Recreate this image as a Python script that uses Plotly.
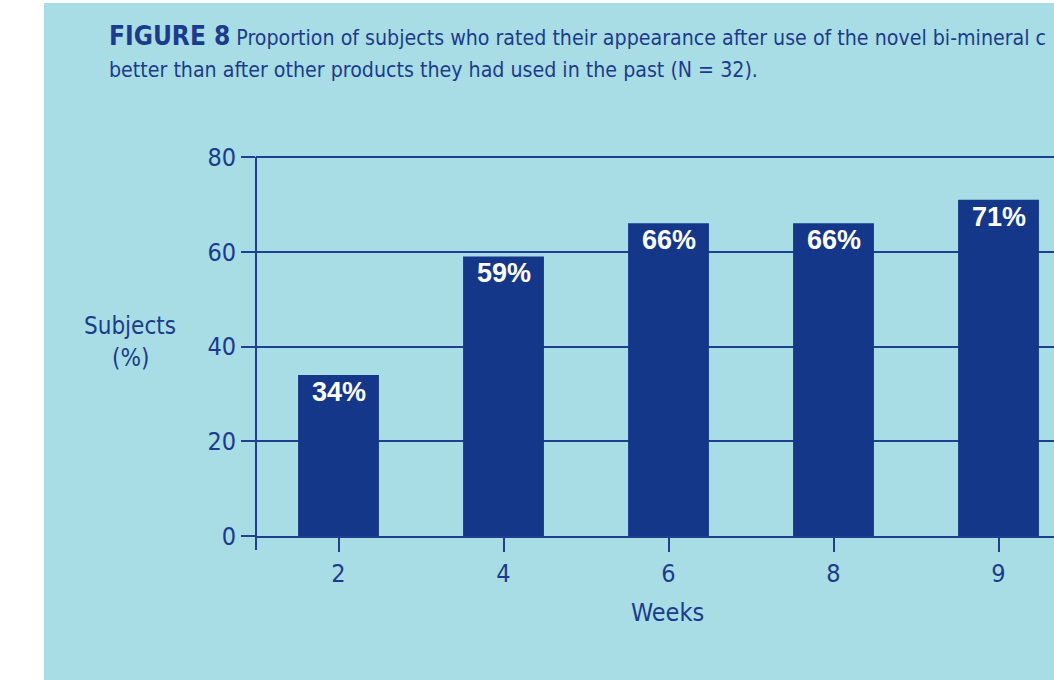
import plotly.graph_objects as go

weeks = ["2", "4", "6", "8", "9"]
subjects_pct = [34, 59, 66, 66, 71]
bar_labels = ["34%", "59%", "66%", "66%", "71%"]
y_ticks = [0, 20, 40, 60, 80]

title_bold = "FIGURE 8"
title_line1 = "Proportion of subjects who rated their appearance after use of the novel bi-mineral c"
title_line2 = "better than after other products they had used in the past (N = 32)."

W, H = 1054, 680
L, R, T, B = 256, 0, 155, 144
PW, PH = W - L - R, H - T - B

BG = "#a8dde6"
NAVY = "#15378a"
LINE = "#1f3f90"
TXT = "#1c3b8b"
FONT = "Liberation Sans Narrow, DejaVu Sans Condensed, Roboto Condensed, Arial Narrow, sans-serif"


def px(x):
    return (x - L) / PW


def py(y):
    return (H - B - y) / PH


cat_w = 165.0
x_range = [-0.5, -0.5 + PW / cat_w]
y_top = 80 * PH / (536 - 157)

fig = go.Figure()
fig.add_trace(go.Bar(
    x=list(range(len(weeks))), y=subjects_pct,
    marker=dict(color=NAVY, line=dict(width=0)),
    width=0.49, hoverinfo="skip",
))

annotations = []
for i, (v, lab) in enumerate(zip(subjects_pct, bar_labels)):
    annotations.append(dict(
        x=i, y=v, xref="x", yref="y", text="<b>" + lab + "</b>",
        showarrow=False, yanchor="top", yshift=0,
        font=dict(family="Liberation Sans, Arial, sans-serif", size=27, color="white"),
    ))

annotations += [
    dict(xref="paper", yref="paper", x=px(107), y=py(35.5), xanchor="left", yanchor="middle",
         text='<b><span style="font-size:26px">' + title_bold + '</span></b> ' + title_line1,
         showarrow=False, font=dict(family=FONT, size=21.2, color=TXT)),
    dict(xref="paper", yref="paper", x=px(107), y=py(69.5), xanchor="left", yanchor="middle",
         text=title_line2, showarrow=False, font=dict(family=FONT, size=21.2, color=TXT)),
    dict(xref="paper", yref="paper", x=px(130), y=py(326), xanchor="center", yanchor="middle",
         text="Subjects", showarrow=False, font=dict(family=FONT, size=24, color=TXT)),
    dict(xref="paper", yref="paper", x=px(130), y=py(358), xanchor="center", yanchor="middle",
         text="(%)", showarrow=False, font=dict(family=FONT, size=24, color=TXT)),
    dict(xref="paper", yref="paper", x=px(667), y=py(612), xanchor="center", yanchor="middle",
         text="Weeks", showarrow=False, font=dict(family=FONT, size=25, color=TXT)),
]

shapes = [
    dict(type="rect", xref="paper", yref="paper", x0=px(44), x1=px(W + 10), y0=py(H + 10), y1=py(3),
         fillcolor=BG, line=dict(width=0), layer="below"),
    dict(type="line", xref="paper", yref="paper", x0=0, x1=0, y0=py(550), y1=py(157),
         line=dict(color=LINE, width=2)),
]

fig.update_layout(
    width=W, height=H,
    margin=dict(l=L, r=R, t=T, b=B, pad=0),
    paper_bgcolor="white", plot_bgcolor=BG,
    showlegend=False,
    annotations=annotations, shapes=shapes,
    xaxis=dict(
        range=x_range, tickmode="array", tickvals=list(range(len(weeks))), ticktext=weeks,
        ticks="outside", ticklen=14, tickwidth=2, tickcolor=LINE,
        showline=True, linecolor=LINE, linewidth=2, showgrid=False, zeroline=False,
        tickfont=dict(family=FONT, size=25, color=TXT),
    ),
    yaxis=dict(
        range=[0, y_top], tickvals=y_ticks,
        ticks="outside", ticklen=14, tickwidth=2, tickcolor=LINE,
        showline=False, showgrid=True, gridcolor=LINE, gridwidth=2, zeroline=False,
        tickfont=dict(family=FONT, size=25, color=TXT),
    ),
    font=dict(family=FONT, color=TXT),
)

fig.write_html("out.html", config={"displayModeBar": False},
               post_script="document.body.style.margin='0';")
